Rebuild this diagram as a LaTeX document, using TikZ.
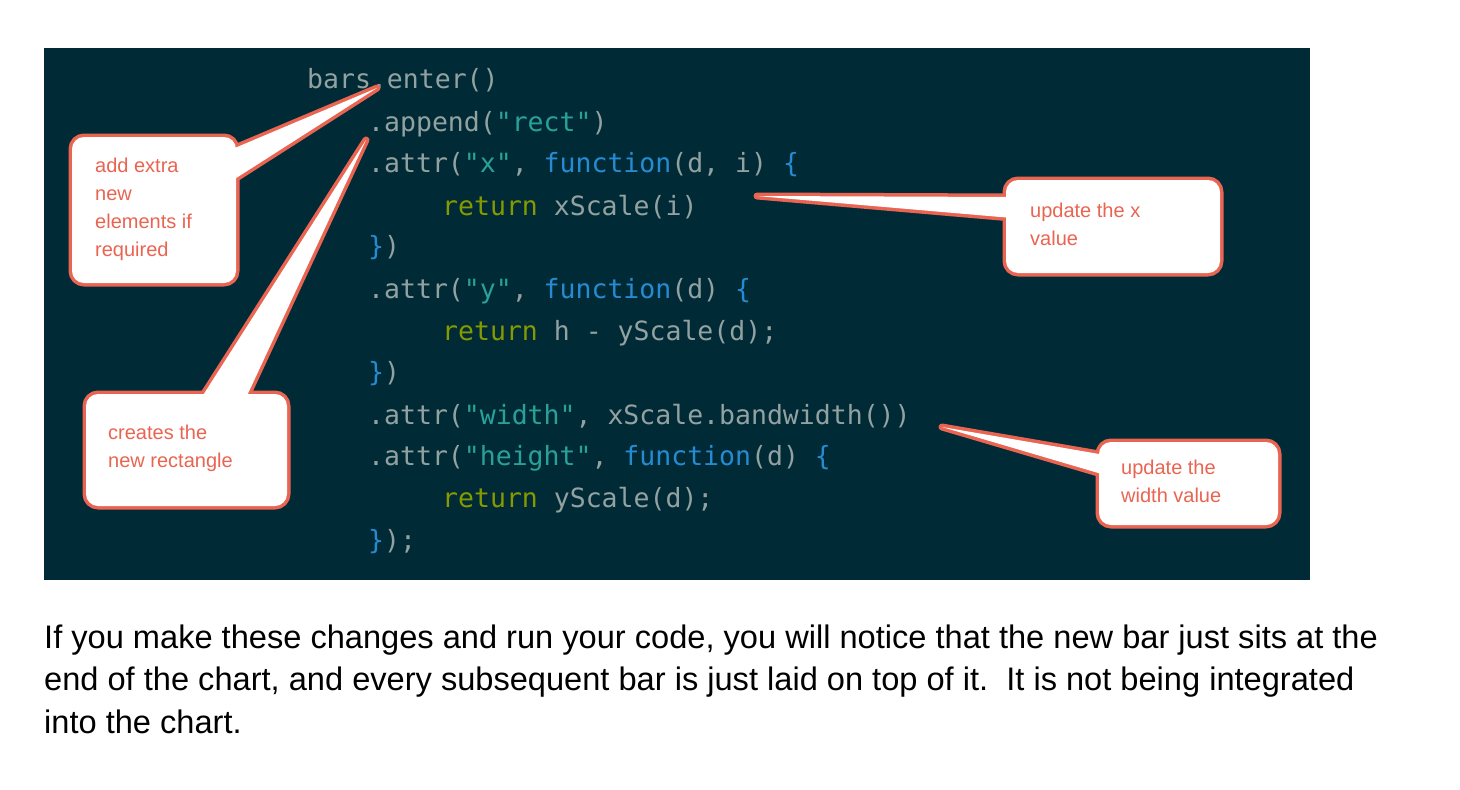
\documentclass[tikz,border=0pt]{standalone}
\usepackage{fontspec}
\setmainfont{Liberation Sans}
\setmonofont{DejaVu Sans Mono}
\definecolor{codebg}{HTML}{002B36}
\definecolor{cg}{HTML}{93A1A1}
\definecolor{cs}{HTML}{2AA198}
\definecolor{cb}{HTML}{268BD2}
\definecolor{cr}{HTML}{859900}
\definecolor{callred}{HTML}{EA6452}
\newcommand{\cS}[1]{\textcolor{cs}{#1}}
\newcommand{\cB}[1]{\textcolor{cb}{#1}}
\newcommand{\cR}[1]{\textcolor{cr}{#1}}
\tikzset{
 code/.style={anchor=west,inner sep=0pt,text=cg,font=\ttfamily\fontsize{26.5}{26}\selectfont},
 note/.style={anchor=north west,inner sep=0pt,text=callred,align=left,font=\fontsize{20}{28}\selectfont},
 body/.style={anchor=base west,inner sep=0pt,font=\fontsize{32.6}{30}\selectfont},
 outline/.style={draw=callred,line width=7pt,line join=round},
 inner/.style={fill=white}
}
\begin{document}
\begin{tikzpicture}[x=1pt,y=-1pt]
\useasboundingbox (0,0) rectangle (1460,790);
\fill[codebg] (44,48) rectangle (1310,580);
% code
\node[code] (l1) at (307,80) {bars.enter()};
\node[code] (l2) at (368,124) {.append(\cS{"rect"})};
\node[code] (l3) at (368,165) {.attr(\cS{"x"}, \cB{function}(d, i) \cB{\{}};
\node[code] (l4) at (368,207) {\hspace*{74pt}\cR{return} xScale(i)};
\node[code] (l5) at (368,248) {\cB{\}})};
\node[code] (l6) at (368,291) {.attr(\cS{"y"}, \cB{function}(d) \cB{\{}};
\node[code] (l7) at (368,333) {\hspace*{74pt}\cR{return} h - yScale(d);};
\node[code] (l8) at (368,374) {\cB{\}})};
\node[code] (l9) at (368,416) {.attr(\cS{"width"}, xScale.bandwidth())};
\node[code] (l10) at (368,458) {.attr(\cS{"height"}, \cB{function}(d) \cB{\{}};
\node[code] (l11) at (368,500) {\hspace*{74pt}\cR{return} yScale(d);};
\node[code] (l12) at (368,542) {\cB{\}});};
% tips
\coordinate (t1) at (377,88);
\coordinate (t2) at (366,140);
\coordinate (t3) at (757,196);
\coordinate (t4) at (942,427);
% outlines
\draw[outline,rounded corners=12pt] (72,137) rectangle (236,283);
\draw[outline] (230,150) -- (t1) -- (230,182) -- cycle;
\draw[outline,rounded corners=12pt] (86,394) rectangle (287,506);
\draw[outline] (200,400) -- (t2) -- (245,400) -- cycle;
\draw[outline,rounded corners=12pt] (1006,180) rectangle (1220,273);
\draw[outline] (1012,197) -- (t3) -- (1012,218) -- cycle;
\draw[outline,rounded corners=12pt] (1099,442) rectangle (1278,525);
\draw[outline] (1105,455) -- (t4) -- (1105,475) -- cycle;
% fills
\fill[inner,rounded corners=12pt] (72,137) rectangle (236,283);
\fill[inner] (230,150) -- (t1) -- (230,182) -- cycle;
\fill[inner,rounded corners=12pt] (86,394) rectangle (287,506);
\fill[inner] (200,400) -- (t2) -- (245,400) -- cycle;
\fill[inner,rounded corners=12pt] (1006,180) rectangle (1220,273);
\fill[inner] (1012,197) -- (t3) -- (1012,218) -- cycle;
\fill[inner,rounded corners=12pt] (1099,442) rectangle (1278,525);
\fill[inner] (1105,455) -- (t4) -- (1105,475) -- cycle;
% notes
\node[note] (n1) at (95,158) {add extra\\new\\elements if\\required};
\node[note] (n2) at (108,425) {creates the\\new rectangle};
\node[note] (n3) at (1030,203) {update the x\\value};
\node[note] (n4) at (1121,460) {update the\\width value};
% body
\node[body] (b1) at (44,648) {If you make these changes and run your code, you will notice that the new bar just sits at the};
\node[body] (b2) at (44,690) {end of the chart, and every subsequent bar is just laid on top of it.\ \ It is not being integrated};
\node[body] (b3) at (44,733) {into the chart.};
\end{tikzpicture}
\end{document}
